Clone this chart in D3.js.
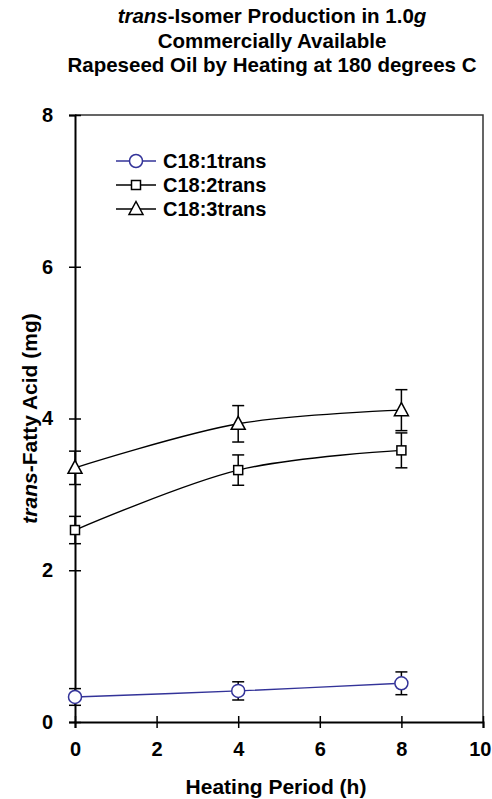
<!DOCTYPE html>
<html>
<head>
<meta charset="utf-8">
<script src="https://cdn.jsdelivr.net/npm/d3@7"></script>
<style>
  body { margin: 0; background: #fff; }
  text { font-family: "Liberation Sans", Arial, sans-serif; font-weight: bold; fill: #000; }
</style>
</head>
<body>
<svg id="main-svg" width="492" height="799"></svg>
<script>
// data
const hours = [0, 4, 8];
const c181 = [0.33, 0.41, 0.51];
const c181Err = [0.11, 0.12, 0.15];
const c182 = [2.53, 3.32, 3.58];
const c182Err = [0.18, 0.20, 0.23];
const c183 = [3.35, 3.93, 4.11];
const c183Err = [0.22, 0.24, 0.27];
const seriesNames = ['C18:1trans', 'C18:2trans', 'C18:3trans'];
const xTicks = [0, 2, 4, 6, 8, 10];
const yTicks = [0, 2, 4, 6, 8];

const series = [
	{ name: seriesNames[0], values: c181, err: c181Err, shape: 'circle', color: '#333399' },
	{ name: seriesNames[1], values: c182, err: c182Err, shape: 'square', color: '#000' },
	{ name: seriesNames[2], values: c183, err: c183Err, shape: 'triangle', color: '#000' }
];

var svg = d3.select('#main-svg');
var x = d3.scaleLinear().domain([0, 10]).range([75, 483]);
var y = d3.scaleLinear().domain([0, 8]).range([722, 115]);

// title
var title = svg.append('text')
	.attr('text-anchor', 'middle')
	.attr('font-size', 20.5);
var t1 = title.append('tspan').attr('x', 272).attr('y', 23);
t1.append('tspan').attr('font-style', 'italic').text('trans');
t1.append('tspan').text('-Isomer Production in 1.0');
t1.append('tspan').attr('font-style', 'italic').text('g');
title.append('tspan').attr('x', 272).attr('y', 47.5).text('Commercially Available');
title.append('tspan').attr('x', 272).attr('y', 72).text('Rapeseed Oil by Heating at 180 degrees C');

// frame top / right
svg.append('path')
	.attr('d', `M${x(0)},${y(8)}H${x(10)}V${y(0)}`)
	.attr('fill', 'none')
	.attr('stroke', '#333')
	.attr('stroke-width', 1.5);

// axes
var xAxis = svg.append('g')
	.attr('transform', `translate(0,${y(0)})`)
	.call(d3.axisBottom(x).tickValues(xTicks).tickSize(6).tickPadding(14));
var yAxis = svg.append('g')
	.attr('transform', `translate(${x(0)},0)`)
	.call(d3.axisLeft(y).tickValues(yTicks).tickSize(6).tickPadding(16));

[xAxis, yAxis].forEach(function(g) {
	g.select('.domain').attr('stroke', '#000').attr('stroke-width', 2);
	g.selectAll('.tick line').attr('stroke', '#000').attr('stroke-width', 1.5);
	g.selectAll('.tick text').attr('font-size', 20);
	g.attr('font-family', null);
});
// ticks cross the axis
xAxis.selectAll('.tick line').attr('y1', -6).attr('y2', 6);
yAxis.selectAll('.tick line').attr('x1', -6).attr('x2', 6);
// keep the last label inside the page
xAxis.selectAll('.tick text')
	.filter(d => d == 10)
	.attr('text-anchor', 'end')
	.attr('x', 8);

// axis titles
svg.append('text')
	.attr('x', 276)
	.attr('y', 794)
	.attr('text-anchor', 'middle')
	.attr('font-size', 21)
	.text('Heating Period (h)');
var yt = svg.append('text')
	.attr('transform', `translate(37,${y(4)}) rotate(-90)`)
	.attr('text-anchor', 'middle')
	.attr('font-size', 21);
yt.append('tspan').attr('font-style', 'italic').text('trans');
yt.append('tspan').text('-Fatty Acid (mg)');

var line = d3.line()
	.x((d, i) => x(hours[i]))
	.y(d => y(d))
	.curve(d3.curveCatmullRom.alpha(0));

function drawMarker(g, shape, color) {
	if (shape == 'circle')
		g.append('circle').attr('r', 6.5).attr('fill', '#fff').attr('stroke', color).attr('stroke-width', 1.5);
	else if (shape == 'square')
		g.append('rect').attr('x', -4.5).attr('y', -4.5).attr('width', 9).attr('height', 9)
			.attr('fill', '#fff').attr('stroke', color).attr('stroke-width', 1.5);
	else
		g.append('path').attr('d', 'M0,-7.5L7,5.5H-7Z')
			.attr('fill', '#fff').attr('stroke', color).attr('stroke-width', 1.5);
}

series.forEach(function(s) {
	var g = svg.append('g');
	g.append('path')
		.datum(s.values)
		.attr('d', line)
		.attr('fill', 'none')
		.attr('stroke', s.color)
		.attr('stroke-width', 1.4);

	var eb = g.selectAll('.err')
		.data(s.values)
		.enter().append('g')
		.attr('stroke', '#000')
		.attr('stroke-width', 1.5);
	eb.append('line')
		.attr('x1', (d, i) => x(hours[i])).attr('x2', (d, i) => x(hours[i]))
		.attr('y1', (d, i) => y(d + s.err[i])).attr('y2', (d, i) => y(d - s.err[i]));
	eb.append('line')
		.attr('x1', (d, i) => x(hours[i]) - 6).attr('x2', (d, i) => x(hours[i]) + 6)
		.attr('y1', (d, i) => y(d + s.err[i])).attr('y2', (d, i) => y(d + s.err[i]));
	eb.append('line')
		.attr('x1', (d, i) => x(hours[i]) - 6).attr('x2', (d, i) => x(hours[i]) + 6)
		.attr('y1', (d, i) => y(d - s.err[i])).attr('y2', (d, i) => y(d - s.err[i]));

	g.selectAll('.mk')
		.data(s.values)
		.enter().append('g')
		.attr('transform', (d, i) => `translate(${x(hours[i])},${y(d)})`)
		.each(function() { drawMarker(d3.select(this), s.shape, s.color); });
});

// legend
var legend = svg.append('g')
	.selectAll('g')
	.data(series)
	.enter().append('g')
	.attr('transform', (d, i) => `translate(116,${161 + i * 24})`);
legend.append('line')
	.attr('x1', 0).attr('x2', 40)
	.attr('stroke', d => d.color)
	.attr('stroke-width', 1.4);
legend.append('g')
	.attr('transform', 'translate(20,0)')
	.each(function(d) { drawMarker(d3.select(this), d.shape, d.color); });
legend.append('text')
	.attr('x', 47)
	.attr('dy', '0.36em')
	.attr('font-size', 20)
	.text(d => d.name);
</script>
</body>
</html>
